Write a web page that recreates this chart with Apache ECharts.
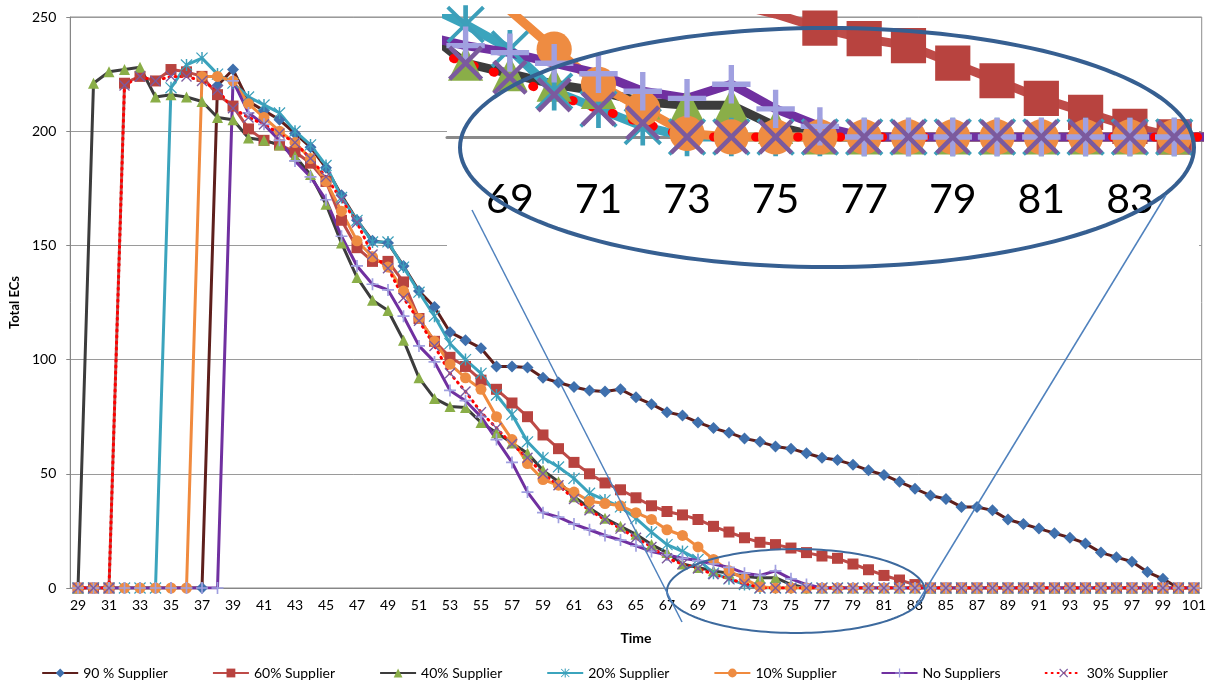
<!DOCTYPE html>
<html>
<head>
<meta charset="utf-8">
<script src="https://cdn.jsdelivr.net/npm/echarts@6/dist/echarts.min.js"></script>
<style>
  html, body { margin: 0; padding: 0; background: #fff; }
  #chart { width: 1209px; height: 682px; }
</style>
</head>
<body>
<div id="chart"></div>
<script>
  // time steps on the category axis
  const times = ['29', '30', '31', '32', '33', '34', '35', '36', '37', '38', '39', '40', '41', '42', '43', '44', '45',
    '46', '47', '48', '49', '50', '51', '52', '53', '54', '55', '56', '57', '58', '59', '60', '61', '62', '63', '64',
    '65', '66', '67', '68', '69', '70', '71', '72', '73', '74', '75', '76', '77', '78', '79', '80', '81', '82', '83',
    '84', '85', '86', '87', '88', '89', '90', '91', '92', '93', '94', '95', '96', '97', '98', '99', '100', '101']

  // Total ECs per series
  const supplier90 = [0, 0, 0, 0, 0, 0, 0, 0, 0,
    220, 227, 213, 209, 205, 199, 193, 184, 172, 161,
    152, 151, 141, 130, 123, 112, 108.5, 105, 97, 97,
    96.5, 92, 90, 88, 86.5, 86, 87, 83.5, 80.5, 77,
    75.5, 72.5, 70, 68, 65.5, 64, 62, 61, 59, 57,
    56, 54, 51.5, 49.5, 46.5, 43.5, 40.5, 39, 35.5, 35.5,
    34, 30, 28, 26, 24, 22, 19.5, 15.5, 13.5, 11.5,
    7, 4, 0, 0]
  const supplier60 = [0, 0, 0,
    221, 224, 222, 227, 226, 224, 216,
    211, 201, 196, 194, 191, 186, 178, 161, 149, 143,
    143, 134, 118, 108, 101, 97, 91, 87, 81, 75,
    67, 61, 55, 50, 46, 43, 39.5, 36, 33.5, 32,
    30, 27, 24.5, 22, 20, 19, 17.5, 15.5, 14, 13,
    10.5, 8, 5.5, 3.5, 1.5,
    0, 0, 0, 0, 0, 0, 0, 0, 0, 0, 0, 0, 0, 0, 0, 0, 0, 0]
  const supplier40 = [0,
    221, 226, 227, 228, 215, 216, 215, 213, 206, 205,
    197, 196, 194, 189, 181, 168, 151, 136, 126, 121.5,
    108.5, 92, 83, 79.5, 79, 72.5, 68, 63.5, 59, 51.5,
    46.5, 40, 35, 30.5, 27, 23.5, 19, 15.5, 10.5, 9,
    7.5, 6.5, 5, 4.5, 4.5, 1.5,
    0, 0, 0, 0, 0, 0, 0, 0, 0, 0, 0, 0, 0, 0, 0, 0, 0, 0, 0, 0, 0, 0, 0, 0, 0, 0]
  const supplier20 = [0, 0, 0, 0, 0, 0,
    219, 229, 232, 225, 221,
    215, 211.5, 208, 200, 194, 185, 171, 161, 151.5, 151.5,
    140.5, 129.5, 119, 107, 100, 94, 84.5, 76, 64, 57,
    53, 48, 41.5, 38.5, 35.5, 30.5, 24.5, 19, 16, 12.5,
    6.5, 4, 1.5,
    0, 0, 0, 0, 0, 0, 0, 0, 0, 0, 0, 0, 0, 0, 0, 0, 0, 0, 0, 0, 0, 0, 0, 0, 0, 0, 0, 0, 0]
  const supplier10 = [0, 0, 0, 0, 0, 0, 0, 0,
    224, 224, 222,
    212, 206, 200, 195, 188, 178, 165, 152, 145, 140.5,
    130, 118, 108, 98, 92, 87, 75, 65, 54.5, 47.5,
    45, 42, 38, 37, 36, 33, 30, 25.5, 23, 18,
    12.5, 7.5, 4, 0.5,
    0, 0, 0, 0, 0, 0, 0, 0, 0, 0, 0, 0, 0, 0, 0, 0, 0, 0, 0, 0, 0, 0, 0, 0, 0, 0, 0, 0]
  const noSuppliers = [0, 0, 0, 0, 0, 0, 0, 0, 0, 0,
    222,
    208, 203, 196, 187, 180, 170, 154, 141, 133, 130.5,
    119, 106, 99, 86.5, 82, 75, 65, 55, 42, 33,
    31, 28, 25.5, 23, 21, 18.5, 16, 14.5, 13, 12,
    10.5, 9, 6.5, 5.5, 7.5, 4, 1.5,
    0, 0, 0, 0, 0, 0, 0, 0, 0, 0, 0, 0, 0, 0, 0, 0, 0, 0, 0, 0, 0, 0, 0, 0, 0]
  const supplier30 = [0, 0, 0,
    220, 224, 222, 224, 224, 222, 218, 210,
    206, 203, 199, 195, 188, 180, 170, 160, 146, 140,
    127, 117, 106, 94, 86, 77, 70, 63, 57, 50,
    45, 39, 34, 30, 26, 22, 18, 13, 10.5, 8.5,
    6, 4, 2,
    0, 0, 0, 0, 0, 0, 0, 0, 0, 0, 0, 0, 0, 0, 0, 0, 0, 0, 0, 0, 0, 0, 0, 0, 0, 0, 0, 0, 0]

  // tick labels of the magnified view
  const zoomTicks = [69, 71, 73, 75, 77, 79, 81, 83]

  const plusPath = 'path://M4.3,0H5.7V4.3H10V5.7H5.7V10H4.3V5.7H0V4.3H4.3Z'
  const crossPath = 'path://M0,0.9L0.9,0L5,4.1L9.1,0L10,0.9L5.9,5L10,9.1L9.1,10L5,5.9L0.9,10L0,9.1L4.1,5Z'
  const starPath = 'path://M4.4,0H5.6V10H4.4Z M0.8,0.1L9.9,9.2L9.2,9.9L0.1,0.8Z M9.2,0.1L9.9,0.8L0.8,9.9L0.1,9.2Z'

  const seriesList = [
    { name: '90 % Supplier', data: supplier90, line: '#5e1f1c', mark: '#3f70ad', symbol: 'diamond', size: 12 },
    { name: '60% Supplier', data: supplier60, line: '#be4b48', mark: '#b8433f', symbol: 'rect', size: 11 },
    { name: '40% Supplier', data: supplier40, line: '#3c3c3c', mark: '#8aae48', symbol: 'triangle', size: 11 },
    { name: '20% Supplier', data: supplier20, line: '#3ba4bd', mark: '#3c9fba', symbol: starPath, size: 12 },
    { name: '10% Supplier', data: supplier10, line: '#f08a3e', mark: '#ee8c42', symbol: 'circle', size: 11 },
    { name: 'No Suppliers', data: noSuppliers, line: '#7030a0', mark: '#a0a0e0', symbol: plusPath, size: 12 },
    { name: '30% Supplier', data: supplier30, line: '#ff0000', mark: '#7b5a9e', symbol: crossPath, size: 11, dotted: true },
  ]

  const mainSeries = seriesList.map((s) => ({
    name: s.name,
    type: 'line',
    xAxisIndex: 0,
    yAxisIndex: 0,
    data: s.data,
    symbol: s.symbol,
    symbolSize: s.size,
    showAllSymbol: true,
    lineStyle: { color: s.line, width: 3, type: s.dotted ? [1, 5] : 'solid', cap: s.dotted ? 'round' : 'butt' },
    itemStyle: { color: s.mark },
    z: 2,
  }))

  // magnified copy of the tail, drawn on its own grid
  const zoomSeries = seriesList.map((s) => ({
    name: s.name + ' (zoom)',
    type: 'line',
    xAxisIndex: 1,
    yAxisIndex: 1,
    data: times.map((t, i) => [Number(t), s.data[i]]),
    symbol: s.symbol,
    symbolSize: s.size * 3.2,
    showAllSymbol: true,
    clip: true,
    lineStyle: { color: s.line, width: 9, type: s.dotted ? [1, 20] : 'solid', cap: s.dotted ? 'round' : 'butt' },
    itemStyle: { color: s.mark },
    z: 7,
  }))

  const ellipsePoints = (cx, cy, rx, ry) => {
    const pts = []
    for (let k = 0; k < 160; k++) {
      const a = (k / 160) * Math.PI * 2
      pts.push([cx + rx * Math.cos(a), cy + ry * Math.sin(a)])
    }
    return pts
  }

  const font = 'Lato, "Open Sans", sans-serif'

  const options = {
    animation: false,
    textStyle: { fontFamily: font },
    legend: {
      data: seriesList.map((s) => s.name),
      left: 'center',
      top: 661,
      itemWidth: 36,
      itemHeight: 11,
      itemGap: 44,
      textStyle: { fontSize: 14, color: '#000', fontFamily: font },
    },
    grid: [
      { left: 51, right: 6, top: 17, bottom: 94, show: true, borderColor: '#8c8c8c', borderWidth: 1 },
      { left: 447, top: 18.5, width: 752, height: 254, show: false },
    ],
    xAxis: [
      {
        type: 'category',
        gridIndex: 0,
        data: times,
        boundaryGap: true,
        name: 'Time',
        nameLocation: 'middle',
        nameGap: 43,
        nameTextStyle: { fontWeight: 'bold', fontSize: 14, color: '#000' },
        axisLine: { lineStyle: { color: '#868686', width: 1 } },
        axisTick: { show: false },
        axisLabel: { interval: 1, fontSize: 14, color: '#000', margin: 10 },
      },
      {
        type: 'value',
        gridIndex: 1,
        min: 67.58,
        max: 84.56,
        z: 6,
        position: 'bottom',
        offset: -135.5,
        axisLine: { onZero: false, lineStyle: { color: '#8a8a8a', width: 3 } },
        axisTick: { show: false },
        splitLine: { show: false },
        axisLabel: { customValues: zoomTicks, fontSize: 41, color: '#000', margin: 42, fontFamily: font },
      },
    ],
    yAxis: [
      {
        type: 'value',
        gridIndex: 0,
        min: 0,
        max: 250,
        interval: 50,
        name: 'Total ECs',
        nameLocation: 'middle',
        nameRotate: 90,
        nameGap: 33,
        nameTextStyle: { fontWeight: 'bold', fontSize: 13, color: '#000' },
        axisLine: { show: true, lineStyle: { color: '#868686' } },
        axisTick: { show: true, length: 4, lineStyle: { color: '#868686' } },
        axisLabel: { fontSize: 14, color: '#000', margin: 14 },
        splitLine: { lineStyle: { color: '#9a9a9a', width: 1 } },
      },
      {
        type: 'value',
        gridIndex: 1,
        min: -19.29,
        max: 16.86,
        show: false,
        splitLine: { show: false },
      },
    ],
    graphic: [
      { type: 'rect', silent: true, z: 5, shape: { x: 447, y: 18.5, width: 752, height: 254 }, style: { fill: '#fff' } },
      { type: 'polygon', silent: true, z: 9, shape: { points: ellipsePoints(827, 147.5, 367, 119.5) },
        style: { fill: 'none', stroke: '#365f91', lineWidth: 4 } },
      { type: 'polygon', silent: true, z: 9, shape: { points: ellipsePoints(796, 591, 129, 42) },
        style: { fill: 'none', stroke: '#3d6a9e', lineWidth: 2 } },
      { type: 'line', silent: true, z: 9, shape: { x1: 472, y1: 210, x2: 682, y2: 622 },
        style: { stroke: '#4f81bd', lineWidth: 1.5 } },
      { type: 'line', silent: true, z: 9, shape: { x1: 1166, y1: 195, x2: 915, y2: 607 },
        style: { stroke: '#4f81bd', lineWidth: 1.5 } },
    ],
    series: mainSeries.concat(zoomSeries),
  }

  const chart = echarts.init(document.getElementById('chart'))
  chart.setOption(options)
  window.addEventListener('resize', function () {
    chart && chart.resize()
  })
</script>
</body>
</html>
